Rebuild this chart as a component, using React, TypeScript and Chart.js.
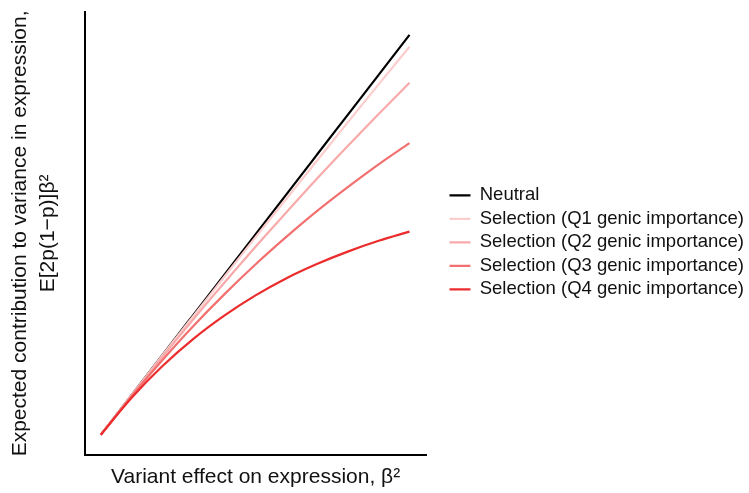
import React, { useEffect, useRef } from "react";
import { Chart, registerables } from "chart.js";

Chart.register(...registerables);

// Variant effect on expression (beta^2), scaled to 0..1
const effectSizes = [0, 0.1, 0.2, 0.3, 0.4, 0.5, 0.6, 0.7, 0.8, 0.9, 1.0];

// Expected contribution to variance, E[2p(1-p)]beta^2, per scenario
const neutralValues = [0, 0.1, 0.2, 0.3, 0.4, 0.5, 0.6, 0.7, 0.8, 0.9, 1.0];
const q1Values = [0, 0.0997, 0.199, 0.297, 0.395, 0.493, 0.589, 0.685, 0.781, 0.876, 0.97];
const q2Values = [0, 0.0987, 0.195, 0.289, 0.38, 0.469, 0.555, 0.64, 0.722, 0.802, 0.88];
const q3Values = [0, 0.0967, 0.187, 0.272, 0.351, 0.425, 0.494, 0.559, 0.619, 0.676, 0.729];
const q4Values = [0, 0.0926, 0.172, 0.24, 0.298, 0.348, 0.391, 0.427, 0.458, 0.485, 0.508];

const seriesLabels = [
  "Neutral",
  "Selection (Q1 genic importance)",
  "Selection (Q2 genic importance)",
  "Selection (Q3 genic importance)",
  "Selection (Q4 genic importance)",
];
const seriesValues = [neutralValues, q1Values, q2Values, q3Values, q4Values];
const seriesColors = ["#000000", "#fccdcd", "#f8aaaa", "#f27070", "#ec2c2c"];

const FONT = "'Liberation Sans', Arial, Helvetica, sans-serif";

export default function App() {
  const canvasRef = useRef<HTMLCanvasElement | null>(null);

  useEffect(() => {
    if (!canvasRef.current) return;
    const datasets = seriesValues.map((vals, i) => ({
      label: seriesLabels[i],
      data: effectSizes.map((x, j) => ({ x, y: vals[j] })),
      borderColor: seriesColors[i],
      backgroundColor: seriesColors[i],
      borderWidth: 2.2,
      pointRadius: 0,
      fill: false,
      cubicInterpolationMode: "monotone" as const,
      // later selection quartiles sit on top of the earlier lines
      order: seriesValues.length - 1 - i,
    }));

    const chart = new Chart(canvasRef.current, {
      type: "line",
      data: { datasets },
      options: {
        animation: false,
        responsive: false,
        layout: { padding: { top: 12, right: -5, bottom: 0, left: 0 } },
        plugins: {
          tooltip: { enabled: false },
          legend: {
            position: "right",
            fullSize: false,
            align: "center",
            maxWidth: 400,
            title: {
              display: true,
              text: " ",
              font: { size: 10, lineHeight: 1.2 },
              padding: 3,
            },
            labels: {
              usePointStyle: true,
              pointStyle: "line",
              pointStyleWidth: 21,
              padding: 5,
              color: "#111111",
              font: { family: FONT, size: 18.5 },
              sort: (a: any, b: any) => a.datasetIndex - b.datasetIndex,
            },
          },
        },
        scales: {
          x: {
            type: "linear",
            min: -0.052,
            max: 1.055,
            grid: { display: false, drawTicks: false },
            border: { display: true, color: "#000000", width: 2 },
            ticks: { display: false },
            title: {
              display: true,
              text: "Variant effect on expression, β²",
              color: "#111111",
              font: { family: FONT, size: 21, lineHeight: 1.2 },
              padding: { top: 10, bottom: 3 },
            },
          },
          y: {
            type: "linear",
            min: -0.05,
            max: 1.057,
            grid: { display: false, drawTicks: false },
            border: { display: true, color: "#000000", width: 2 },
            ticks: { display: false },
            title: {
              display: true,
              text: ["Expected contribution to variance in expression,", "E[2p(1−p)]β²"],
              color: "#111111",
              font: { family: FONT, size: 21, lineHeight: 1.35 },
              padding: { top: 6, bottom: 22 },
            },
          },
          // empty spacer between the plot panel and the legend
          gap: {
            type: "linear",
            position: "right",
            display: true,
            grid: { display: false, drawTicks: false },
            border: { display: false },
            ticks: { display: false },
            afterFit: (scale: any) => {
              scale.width = 18;
            },
          },
        },
      },
    });
    return () => chart.destroy();
  }, []);

  return (
    <div style={{ position: "fixed", left: 0, top: 0, width: 749, height: 493, background: "#ffffff" }}>
      <canvas ref={canvasRef} width={749} height={493} />
    </div>
  );
}
